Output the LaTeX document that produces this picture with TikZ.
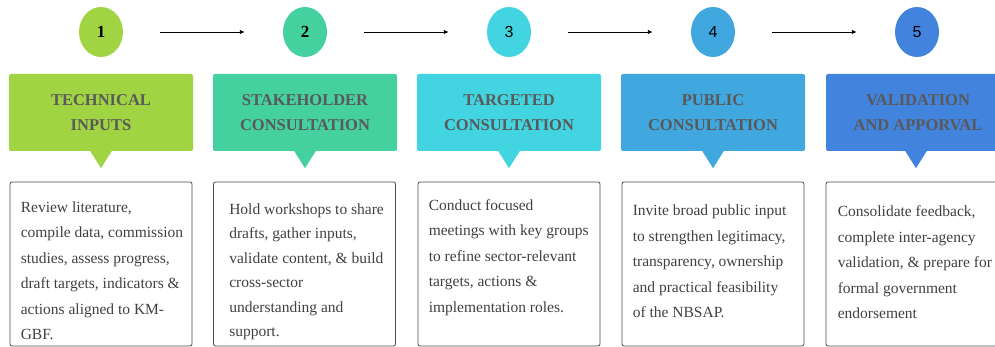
\documentclass[tikz,border=0pt]{standalone}
\usepackage{fontspec}
\setmainfont{Liberation Serif}
\setsansfont{Liberation Sans}
\usepackage{xcolor}
\usepackage{tikz}
\usetikzlibrary{arrows.meta}
\usetikzlibrary{shapes.geometric}
\definecolor{StepOne}{HTML}{A0D443}
\definecolor{StepTwo}{HTML}{45D19F}
\definecolor{StepThree}{HTML}{42D5E1}
\definecolor{StepFour}{HTML}{41A7DF}
\definecolor{StepFive}{HTML}{4283DD}
\tikzset{
	>={Latex[length=5pt,width=4.5pt]},
	flow/.style={black, line width=0.9pt, ->, shorten <=37pt, shorten >=38pt},
	stepdot/.style={ellipse, minimum width=44pt, minimum height=50pt, inner sep=0pt},
	numserif/.style={font=\fontsize{17}{17}\selectfont\bfseries},
	numsans/.style={font=\sffamily\fontsize{16}{16}\selectfont},
	header/.style={rectangle, rounded corners=2pt, minimum width=184pt, minimum height=77pt,
		inner sep=0pt, align=center, text=black!65,
		font=\fontsize{16.5}{25}\selectfont\bfseries},
	textbox/.style={rectangle, draw=black!70, line width=0.8pt, rounded corners=2pt,
		minimum width=182pt, minimum height=164pt, inner sep=0pt},
	bodytext/.style={anchor=north west, inner sep=0pt, align=left, text=black!75,
		font=\fontsize{15.5}{25.5}\selectfont},
}

\begin{document}
\begin{tikzpicture}[x=1pt,y=-1pt]
	
	\useasboundingbox (0,0) rectangle (995,347);
	
	% Step circles
	\node[stepdot, fill=StepOne, numserif]  (c1) at (101,32) {1};
	\node[stepdot, fill=StepTwo, numserif]  (c2) at (305,32) {2};
	\node[stepdot, fill=StepThree, numsans] (c3) at (509,32) {3};
	\node[stepdot, fill=StepFour, numsans]  (c4) at (713,32) {4};
	\node[stepdot, fill=StepFive, numsans]  (c5) at (917,32) {5};
	
	% Arrows between steps
	\draw[flow] (c1) -- (c2);
	\draw[flow] (c2) -- (c3);
	\draw[flow] (c3) -- (c4);
	\draw[flow] (c4) -- (c5);
	
	% Coloured headers with pointers
	\node[header, fill=StepOne]   (h1) at (101,112.5) {TECHNICAL\\INPUTS};
	\node[header, fill=StepTwo]   (h2) at (305,112.5) {STAKEHOLDER\\CONSULTATION};
	\node[header, fill=StepThree] (h3) at (509,112.5) {TARGETED\\CONSULTATION};
	\node[header, fill=StepFour]  (h4) at (713,112.5) {PUBLIC\\CONSULTATION};
	\node[header, fill=StepFive]  (h5) at (918,112.5) {VALIDATION\\AND APPORVAL};
	
	\fill[StepOne]   (h1.south) ++(-11,-0.5) -- ++(22,0) -- ++(-11,17.5) -- cycle;
	\fill[StepTwo]   (h2.south) ++(-11,-0.5) -- ++(22,0) -- ++(-11,17.5) -- cycle;
	\fill[StepThree] (h3.south) ++(-11,-0.5) -- ++(22,0) -- ++(-11,17.5) -- cycle;
	\fill[StepFour]  (h4.south) ++(-11,-0.5) -- ++(22,0) -- ++(-11,17.5) -- cycle;
	\fill[StepFive]  (h5.south) ++(-13,-0.5) -- ++(22,0) -- ++(-11,17.5) -- cycle;
	
	% Description boxes
	\node[textbox] (b1) at (101,264) {};
	\node[textbox] (b2) at (304.5,264) {};
	\node[textbox] (b3) at (509,264) {};
	\node[textbox] (b4) at (713,264) {};
	\node[textbox] (b5) at (917,264) {};
	
	\node[bodytext] (t1) at ([shift={(11,19.5)}]b1.north west)
		{Review literature,\\compile data, commission\\studies, assess progress,\\draft targets, indicators \&\\actions aligned to KM-\\GBF.};
	\node[bodytext, font=\fontsize{15.5}{24.5}\selectfont] (t2) at ([shift={(16,21.5)}]b2.north west)
		{Hold workshops to share\\drafts, gather inputs,\\validate content, \& build\\cross-sector\\understanding and\\support.};
	\node[bodytext] (t3) at ([shift={(11,17.5)}]b3.north west)
		{Conduct focused\\meetings with key groups\\to refine sector-relevant\\targets, actions \&\\implementation roles.};
	\node[bodytext] (t4) at ([shift={(11,23)}]b4.north west)
		{Invite broad public input\\to strengthen legitimacy,\\transparency, ownership\\and practical feasibility\\of the NBSAP.};
	\node[bodytext] (t5) at ([shift={(12,24)}]b5.north west)
		{Consolidate feedback,\\complete inter-agency\\validation, \& prepare for\\formal government\\endorsement};
	
\end{tikzpicture}
\end{document}
